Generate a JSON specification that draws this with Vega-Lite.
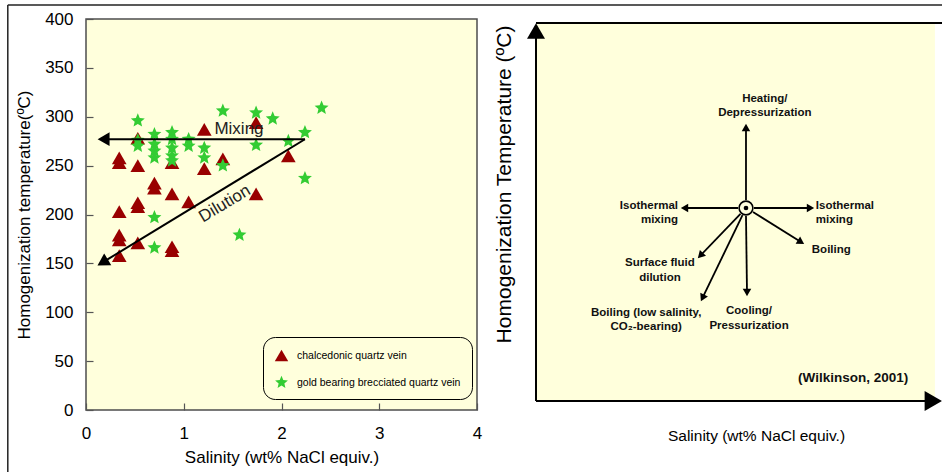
{
  "$schema": "https://vega.github.io/schema/vega-lite/v6.json",
  "background": "white",
  "padding": {"left": 6, "top": 3, "right": 0, "bottom": 0},
  "bounds": "flush",
  "spacing": 59,
  "config": {
    "font": "Liberation Sans",
    "axis": {"labelColor": "#000", "titleColor": "#000", "titleFontWeight": "normal", "grid": false, "domain": false, "tickColor": "#555", "tickWidth": 1.2, "labelFlush": false}
  },
  "hconcat": [
    {
      "width": 391,
      "height": 391,
      "view": {"fill": "#FFFFDC", "stroke": "#4d4d4d", "strokeWidth": 1.5},
      "layer": [
        {
          "data": {"values": [{"edge": "frame"}]},
          "mark": {"type": "rule", "color": "#222", "strokeWidth": 1.5},
          "encoding": {
            "x": {"datum": -0.8, "type": "quantitative", "scale": {"domain": [0, 4], "nice": false}, "axis": {"values": [0, 1, 2, 3, 4], "title": "Salinity (wt% NaCl equiv.)", "labelFontSize": 17, "titleFontSize": 17, "tickSize": -7, "labelPadding": 22, "titlePadding": 8}},
            "y": {"datum": 414.3, "type": "quantitative", "scale": {"domain": [0, 400], "nice": false}, "axis": {"values": [0, 50, 100, 150, 200, 250, 300, 350, 400], "title": "Homogenization temperature(ºC)", "labelFontSize": 17, "titleFontSize": 17, "tickSize": -7, "labelPadding": 20, "titlePadding": 11}},
            "y2": {"datum": -90}
          }
        },
        {
          "data": {"values": [{"edge": "frame"}]},
          "mark": {"type": "rule", "color": "#222", "strokeWidth": 1.5},
          "encoding": {
            "x": {"datum": -0.8, "type": "quantitative", "scale": {"domain": [0, 4], "nice": false}, "axis": {"values": [0, 1, 2, 3, 4], "title": "Salinity (wt% NaCl equiv.)", "labelFontSize": 17, "titleFontSize": 17, "tickSize": -7, "labelPadding": 22, "titlePadding": 8}},
            "x2": {"datum": 9},
            "y": {"datum": 414.3, "type": "quantitative", "scale": {"domain": [0, 400], "nice": false}, "axis": {"values": [0, 50, 100, 150, 200, 250, 300, 350, 400], "title": "Homogenization temperature(ºC)", "labelFontSize": 17, "titleFontSize": 17, "tickSize": -7, "labelPadding": 20, "titlePadding": 11}}
          }
        },
        {
          "data": {
            "values": [
              {"salinity": 0.34, "temp": 258, "vein": "chalcedonic quartz vein"},
              {"salinity": 0.34, "temp": 253, "vein": "chalcedonic quartz vein"},
              {"salinity": 0.53, "temp": 250, "vein": "chalcedonic quartz vein"},
              {"salinity": 0.53, "temp": 278, "vein": "chalcedonic quartz vein"},
              {"salinity": 1.21, "temp": 287, "vein": "chalcedonic quartz vein"},
              {"salinity": 1.40, "temp": 257, "vein": "chalcedonic quartz vein"},
              {"salinity": 1.21, "temp": 247, "vein": "chalcedonic quartz vein"},
              {"salinity": 0.88, "temp": 253, "vein": "chalcedonic quartz vein"},
              {"salinity": 0.70, "temp": 232, "vein": "chalcedonic quartz vein"},
              {"salinity": 0.70, "temp": 227, "vein": "chalcedonic quartz vein"},
              {"salinity": 0.88, "temp": 221, "vein": "chalcedonic quartz vein"},
              {"salinity": 1.05, "temp": 213, "vein": "chalcedonic quartz vein"},
              {"salinity": 0.53, "temp": 212, "vein": "chalcedonic quartz vein"},
              {"salinity": 0.53, "temp": 208, "vein": "chalcedonic quartz vein"},
              {"salinity": 0.34, "temp": 203, "vein": "chalcedonic quartz vein"},
              {"salinity": 0.34, "temp": 179, "vein": "chalcedonic quartz vein"},
              {"salinity": 0.34, "temp": 174, "vein": "chalcedonic quartz vein"},
              {"salinity": 0.53, "temp": 171, "vein": "chalcedonic quartz vein"},
              {"salinity": 0.88, "temp": 167, "vein": "chalcedonic quartz vein"},
              {"salinity": 0.88, "temp": 163, "vein": "chalcedonic quartz vein"},
              {"salinity": 0.34, "temp": 158, "vein": "chalcedonic quartz vein"},
              {"salinity": 1.74, "temp": 294, "vein": "chalcedonic quartz vein"},
              {"salinity": 2.07, "temp": 260, "vein": "chalcedonic quartz vein"},
              {"salinity": 1.74, "temp": 221, "vein": "chalcedonic quartz vein"},
              {"salinity": 0.53, "temp": 296, "vein": "gold bearing brecciated quartz vein"},
              {"salinity": 0.53, "temp": 276, "vein": "gold bearing brecciated quartz vein"},
              {"salinity": 0.53, "temp": 270, "vein": "gold bearing brecciated quartz vein"},
              {"salinity": 0.70, "temp": 282, "vein": "gold bearing brecciated quartz vein"},
              {"salinity": 0.70, "temp": 272, "vein": "gold bearing brecciated quartz vein"},
              {"salinity": 0.70, "temp": 265, "vein": "gold bearing brecciated quartz vein"},
              {"salinity": 0.70, "temp": 258, "vein": "gold bearing brecciated quartz vein"},
              {"salinity": 0.88, "temp": 284, "vein": "gold bearing brecciated quartz vein"},
              {"salinity": 0.88, "temp": 277, "vein": "gold bearing brecciated quartz vein"},
              {"salinity": 0.88, "temp": 268, "vein": "gold bearing brecciated quartz vein"},
              {"salinity": 0.88, "temp": 260, "vein": "gold bearing brecciated quartz vein"},
              {"salinity": 0.88, "temp": 255, "vein": "gold bearing brecciated quartz vein"},
              {"salinity": 1.05, "temp": 277, "vein": "gold bearing brecciated quartz vein"},
              {"salinity": 1.05, "temp": 270, "vein": "gold bearing brecciated quartz vein"},
              {"salinity": 1.21, "temp": 268, "vein": "gold bearing brecciated quartz vein"},
              {"salinity": 1.21, "temp": 258, "vein": "gold bearing brecciated quartz vein"},
              {"salinity": 1.40, "temp": 306, "vein": "gold bearing brecciated quartz vein"},
              {"salinity": 1.40, "temp": 250, "vein": "gold bearing brecciated quartz vein"},
              {"salinity": 0.70, "temp": 197, "vein": "gold bearing brecciated quartz vein"},
              {"salinity": 0.70, "temp": 166, "vein": "gold bearing brecciated quartz vein"},
              {"salinity": 1.57, "temp": 179, "vein": "gold bearing brecciated quartz vein"},
              {"salinity": 1.74, "temp": 304, "vein": "gold bearing brecciated quartz vein"},
              {"salinity": 1.91, "temp": 298, "vein": "gold bearing brecciated quartz vein"},
              {"salinity": 2.41, "temp": 309, "vein": "gold bearing brecciated quartz vein"},
              {"salinity": 2.24, "temp": 284, "vein": "gold bearing brecciated quartz vein"},
              {"salinity": 2.07, "temp": 275, "vein": "gold bearing brecciated quartz vein"},
              {"salinity": 1.74, "temp": 271, "vein": "gold bearing brecciated quartz vein"},
              {"salinity": 2.24, "temp": 237, "vein": "gold bearing brecciated quartz vein"}
            ]
          },
          "mark": {"type": "point", "filled": true, "opacity": 1, "size": 215},
          "encoding": {
            "x": {"field": "salinity", "type": "quantitative", "scale": {"domain": [0, 4], "nice": false}, "axis": {"values": [0, 1, 2, 3, 4], "title": "Salinity (wt% NaCl equiv.)", "labelFontSize": 17, "titleFontSize": 17, "tickSize": -7, "labelPadding": 22, "titlePadding": 8}},
            "y": {"field": "temp", "type": "quantitative", "scale": {"domain": [0, 400], "nice": false}, "axis": {"values": [0, 50, 100, 150, 200, 250, 300, 350, 400], "title": "Homogenization temperature(ºC)", "labelFontSize": 17, "titleFontSize": 17, "tickSize": -7, "labelPadding": 20, "titlePadding": 11}},
            "color": {
              "field": "vein", "type": "nominal",
              "scale": {"domain": ["chalcedonic quartz vein", "gold bearing brecciated quartz vein"], "range": ["#990000", "#33CC33"]},
              "legend": {
                "title": null, "orient": "none", "legendX": 177, "legendY": 318,
                "fillColor": "#FFFFDC", "strokeColor": "#000", "cornerRadius": 12,
                "padding": 11, "rowPadding": 13, "symbolSize": 180, "labelOffset": 8,
                "labelFont": "Liberation Sans", "labelFontSize": 10.5, "labelLimit": 300
              }
            },
            "shape": {
              "field": "vein", "type": "nominal",
              "scale": {"domain": ["chalcedonic quartz vein", "gold bearing brecciated quartz vein"], "range": ["triangle-up", "M0,-1L0.265,-0.364L0.951,-0.309L0.428,0.139L0.588,0.809L0,0.45L-0.588,0.809L-0.428,0.139L-0.951,-0.309L-0.265,-0.364Z"]},
              "legend": {
                "title": null, "orient": "none", "legendX": 177, "legendY": 318,
                "fillColor": "#FFFFDC", "strokeColor": "#000", "cornerRadius": 12,
                "padding": 11, "rowPadding": 13, "symbolSize": 180, "labelOffset": 8,
                "labelFont": "Liberation Sans", "labelFontSize": 10.5, "labelLimit": 300
              }
            }
          }
        },
        {
          "data": {
            "values": [
              {"trend": "Mixing", "x": 2.24, "y": 277, "hx": 0.18, "hy": 277, "angle": 270},
              {"trend": "Dilution", "x": 2.24, "y": 277, "hx": 0.17, "hy": 151, "angle": 239}
            ]
          },
          "layer": [
            {
              "mark": {"type": "rule", "color": "#000", "strokeWidth": 2},
              "encoding": {
                "x": {"field": "x", "type": "quantitative", "scale": {"domain": [0, 4], "nice": false}, "axis": {"values": [0, 1, 2, 3, 4], "title": "Salinity (wt% NaCl equiv.)", "labelFontSize": 17, "titleFontSize": 17, "tickSize": -7, "labelPadding": 22, "titlePadding": 8}},
                "y": {"field": "y", "type": "quantitative", "scale": {"domain": [0, 400], "nice": false}, "axis": {"values": [0, 50, 100, 150, 200, 250, 300, 350, 400], "title": "Homogenization temperature(ºC)", "labelFontSize": 17, "titleFontSize": 17, "tickSize": -7, "labelPadding": 20, "titlePadding": 11}},
                "x2": {"field": "hx"},
                "y2": {"field": "hy"}
              }
            },
            {
              "mark": {"type": "point", "shape": "triangle-up", "filled": true, "color": "#000", "opacity": 1, "size": 190},
              "encoding": {
                "x": {"field": "hx", "type": "quantitative", "scale": {"domain": [0, 4], "nice": false}, "axis": {"values": [0, 1, 2, 3, 4], "title": "Salinity (wt% NaCl equiv.)", "labelFontSize": 17, "titleFontSize": 17, "tickSize": -7, "labelPadding": 22, "titlePadding": 8}},
                "y": {"field": "hy", "type": "quantitative", "scale": {"domain": [0, 400], "nice": false}, "axis": {"values": [0, 50, 100, 150, 200, 250, 300, 350, 400], "title": "Homogenization temperature(ºC)", "labelFontSize": 17, "titleFontSize": 17, "tickSize": -7, "labelPadding": 20, "titlePadding": 11}},
                "angle": {"field": "angle", "type": "quantitative", "scale": null}
              }
            }
          ]
        },
        {
          "data": {
            "values": [
              {"label": "Mixing", "x": 1.565, "y": 287, "angle": 0},
              {"label": "Dilution", "x": 1.42, "y": 211, "angle": -31}
            ]
          },
          "mark": {"type": "text", "fontSize": 17, "color": "#222", "baseline": "middle", "align": "center"},
          "encoding": {
            "x": {"field": "x", "type": "quantitative", "scale": {"domain": [0, 4], "nice": false}, "axis": {"values": [0, 1, 2, 3, 4], "title": "Salinity (wt% NaCl equiv.)", "labelFontSize": 17, "titleFontSize": 17, "tickSize": -7, "labelPadding": 22, "titlePadding": 8}},
            "y": {"field": "y", "type": "quantitative", "scale": {"domain": [0, 400], "nice": false}, "axis": {"values": [0, 50, 100, 150, 200, 250, 300, 350, 400], "title": "Homogenization temperature(ºC)", "labelFontSize": 17, "titleFontSize": 17, "tickSize": -7, "labelPadding": 20, "titlePadding": 11}},
            "text": {"field": "label"},
            "angle": {"field": "angle", "type": "quantitative", "scale": null}
          }
        }
      ]
    },
    {
      "width": 405,
      "height": 382,
      "view": {"stroke": null},
      "layer": [
        {
          "data": {"values": [{"part": "plot area"}]},
          "mark": {"type": "rect", "color": "#FFFFDC"},
          "encoding": {
            "x": {"datum": 0, "type": "quantitative", "scale": {"domain": [0, 100], "nice": false}, "axis": {"title": "Salinity (wt% NaCl equiv.)", "labels": false, "ticks": false, "titleFontSize": 15.5, "titlePadding": 27, "titleX": 220}},
            "x2": {"datum": 98.5},
            "y": {"datum": 0, "type": "quantitative", "scale": {"domain": [0, 101.06], "nice": false}, "axis": {"title": "Homogenization Temperature (ºC)", "labels": false, "ticks": false, "titleFontSize": 21, "titlePadding": 22, "titleY": 165}},
            "y2": {"datum": 100}
          }
        },
        {
          "data": {"values": [{"part": "top edge"}]},
          "mark": {"type": "rule", "color": "#000", "strokeWidth": 2},
          "encoding": {
            "x": {"datum": 0, "type": "quantitative", "scale": {"domain": [0, 100], "nice": false}, "axis": {"title": "Salinity (wt% NaCl equiv.)", "labels": false, "ticks": false, "titleFontSize": 15.5, "titlePadding": 27, "titleX": 220}},
            "x2": {"datum": 101.7},
            "y": {"datum": 100, "type": "quantitative", "scale": {"domain": [0, 101.06], "nice": false}, "axis": {"title": "Homogenization Temperature (ºC)", "labels": false, "ticks": false, "titleFontSize": 21, "titlePadding": 22, "titleY": 165}}
          }
        },
        {
          "data": {"values": [{"part": "temperature axis"}]},
          "mark": {"type": "rule", "color": "#000", "strokeWidth": 2},
          "encoding": {
            "x": {"datum": 0, "type": "quantitative", "scale": {"domain": [0, 100], "nice": false}, "axis": {"title": "Salinity (wt% NaCl equiv.)", "labels": false, "ticks": false, "titleFontSize": 15.5, "titlePadding": 27, "titleX": 220}},
            "y": {"datum": 0, "type": "quantitative", "scale": {"domain": [0, 101.06], "nice": false}, "axis": {"title": "Homogenization Temperature (ºC)", "labels": false, "ticks": false, "titleFontSize": 21, "titlePadding": 22, "titleY": 165}},
            "y2": {"datum": 98}
          }
        },
        {
          "data": {"values": [{"part": "salinity axis"}]},
          "mark": {"type": "rule", "color": "#000", "strokeWidth": 2},
          "encoding": {
            "x": {"datum": 0, "type": "quantitative", "scale": {"domain": [0, 100], "nice": false}, "axis": {"title": "Salinity (wt% NaCl equiv.)", "labels": false, "ticks": false, "titleFontSize": 15.5, "titlePadding": 27, "titleX": 220}},
            "x2": {"datum": 98.5},
            "y": {"datum": 0, "type": "quantitative", "scale": {"domain": [0, 101.06], "nice": false}, "axis": {"title": "Homogenization Temperature (ºC)", "labels": false, "ticks": false, "titleFontSize": 21, "titlePadding": 22, "titleY": 165}}
          }
        },
        {
          "data": {"values": [{"part": "temperature arrowhead"}]},
          "mark": {"type": "point", "shape": "triangle-up", "filled": true, "color": "#000", "opacity": 1, "size": 324},
          "encoding": {
            "x": {"datum": 0, "type": "quantitative", "scale": {"domain": [0, 100], "nice": false}, "axis": {"title": "Salinity (wt% NaCl equiv.)", "labels": false, "ticks": false, "titleFontSize": 15.5, "titlePadding": 27, "titleX": 220}},
            "y": {"datum": 97.9, "type": "quantitative", "scale": {"domain": [0, 101.06], "nice": false}, "axis": {"title": "Homogenization Temperature (ºC)", "labels": false, "ticks": false, "titleFontSize": 21, "titlePadding": 22, "titleY": 165}}
          }
        },
        {
          "data": {"values": [{"part": "salinity arrowhead"}]},
          "mark": {"type": "point", "shape": "triangle-up", "filled": true, "color": "#000", "opacity": 1, "size": 400, "angle": 90},
          "encoding": {
            "x": {"datum": 98.1, "type": "quantitative", "scale": {"domain": [0, 100], "nice": false}, "axis": {"title": "Salinity (wt% NaCl equiv.)", "labels": false, "ticks": false, "titleFontSize": 15.5, "titlePadding": 27, "titleX": 220}},
            "y": {"datum": 0, "type": "quantitative", "scale": {"domain": [0, 101.06], "nice": false}, "axis": {"title": "Homogenization Temperature (ºC)", "labels": false, "ticks": false, "titleFontSize": 21, "titlePadding": 22, "titleY": 165}}
          }
        },
        {
          "data": {
            "values": [
              {"process": "Heating/Depressurization", "x": 51.85, "y": 53.17, "hx": 51.85, "hy": 72.35, "angle": 0},
              {"process": "Cooling/Pressurization", "x": 51.85, "y": 48.94, "hx": 52.1, "hy": 28.7, "angle": 180},
              {"process": "Isothermal mixing (fresher)", "x": 49.88, "y": 51.06, "hx": 36.67, "hy": 51.06, "angle": 270},
              {"process": "Isothermal mixing (saltier)", "x": 53.83, "y": 51.06, "hx": 67.78, "hy": 51.06, "angle": 90},
              {"process": "Boiling", "x": 53.58, "y": 50.0, "hx": 65.43, "hy": 42.04, "angle": 122},
              {"process": "Surface fluid dilution", "x": 50.49, "y": 49.52, "hx": 40.59, "hy": 38.49, "angle": 224},
              {"process": "Boiling (low salinity, CO2-bearing)", "x": 50.99, "y": 49.15, "hx": 41.11, "hy": 27.29, "angle": 206}
            ]
          },
          "layer": [
            {
              "mark": {"type": "rule", "color": "#000", "strokeWidth": 1.8},
              "encoding": {
                "x": {"field": "x", "type": "quantitative", "scale": {"domain": [0, 100], "nice": false}, "axis": {"title": "Salinity (wt% NaCl equiv.)", "labels": false, "ticks": false, "titleFontSize": 15.5, "titlePadding": 27, "titleX": 220}},
                "y": {"field": "y", "type": "quantitative", "scale": {"domain": [0, 101.06], "nice": false}, "axis": {"title": "Homogenization Temperature (ºC)", "labels": false, "ticks": false, "titleFontSize": 21, "titlePadding": 22, "titleY": 165}},
                "x2": {"field": "hx"},
                "y2": {"field": "hy"}
              }
            },
            {
              "mark": {"type": "point", "shape": "triangle-up", "filled": true, "color": "#000", "opacity": 1, "size": 72},
              "encoding": {
                "x": {"field": "hx", "type": "quantitative", "scale": {"domain": [0, 100], "nice": false}, "axis": {"title": "Salinity (wt% NaCl equiv.)", "labels": false, "ticks": false, "titleFontSize": 15.5, "titlePadding": 27, "titleX": 220}},
                "y": {"field": "hy", "type": "quantitative", "scale": {"domain": [0, 101.06], "nice": false}, "axis": {"title": "Homogenization Temperature (ºC)", "labels": false, "ticks": false, "titleFontSize": 21, "titlePadding": 22, "titleY": 165}},
                "angle": {"field": "angle", "type": "quantitative", "scale": null}
              }
            }
          ]
        },
        {
          "data": {"values": [{"x": 51.85, "y": 51.06}]},
          "layer": [
            {
              "mark": {"type": "point", "shape": "circle", "filled": false, "fill": "#FFFFDC", "stroke": "#000", "strokeWidth": 1.6, "opacity": 1, "size": 190},
              "encoding": {
                "x": {"field": "x", "type": "quantitative", "scale": {"domain": [0, 100], "nice": false}, "axis": {"title": "Salinity (wt% NaCl equiv.)", "labels": false, "ticks": false, "titleFontSize": 15.5, "titlePadding": 27, "titleX": 220}},
                "y": {"field": "y", "type": "quantitative", "scale": {"domain": [0, 101.06], "nice": false}, "axis": {"title": "Homogenization Temperature (ºC)", "labels": false, "ticks": false, "titleFontSize": 21, "titlePadding": 22, "titleY": 165}}
              }
            },
            {
              "mark": {"type": "point", "shape": "circle", "filled": true, "color": "#000", "opacity": 1, "size": 22},
              "encoding": {
                "x": {"field": "x", "type": "quantitative", "scale": {"domain": [0, 100], "nice": false}, "axis": {"title": "Salinity (wt% NaCl equiv.)", "labels": false, "ticks": false, "titleFontSize": 15.5, "titlePadding": 27, "titleX": 220}},
                "y": {"field": "y", "type": "quantitative", "scale": {"domain": [0, 101.06], "nice": false}, "axis": {"title": "Homogenization Temperature (ºC)", "labels": false, "ticks": false, "titleFontSize": 21, "titlePadding": 22, "titleY": 165}}
              }
            }
          ]
        },
        {
          "data": {
            "values": [
              {"label": "Heating/\nDepressurization", "x": 56.5, "y": 79.9},
              {"label": "Surface fluid\ndilution", "x": 30.6, "y": 36.5},
              {"label": "Boiling (low salinity,\nCO₂-bearing)", "x": 27.2, "y": 23.3},
              {"label": "Cooling/\nPressurization", "x": 52.6, "y": 23.8}
            ]
          },
          "mark": {"type": "text", "fontSize": 11.5, "fontWeight": "bold", "color": "#111", "align": "center", "baseline": "middle", "lineBreak": "\n", "lineHeight": 14.5},
          "encoding": {
            "x": {"field": "x", "type": "quantitative", "scale": {"domain": [0, 100], "nice": false}, "axis": {"title": "Salinity (wt% NaCl equiv.)", "labels": false, "ticks": false, "titleFontSize": 15.5, "titlePadding": 27, "titleX": 220}},
            "y": {"field": "y", "type": "quantitative", "scale": {"domain": [0, 101.06], "nice": false}, "axis": {"title": "Homogenization Temperature (ºC)", "labels": false, "ticks": false, "titleFontSize": 21, "titlePadding": 22, "titleY": 165}},
            "text": {"field": "label"}
          }
        },
        {
          "data": {"values": [{"label": "Isothermal\nmixing", "x": 35.06, "y": 51.6}]},
          "mark": {"type": "text", "fontSize": 11.5, "fontWeight": "bold", "color": "#111", "align": "right", "baseline": "middle", "lineBreak": "\n", "lineHeight": 14.5},
          "encoding": {
            "x": {"field": "x", "type": "quantitative", "scale": {"domain": [0, 100], "nice": false}, "axis": {"title": "Salinity (wt% NaCl equiv.)", "labels": false, "ticks": false, "titleFontSize": 15.5, "titlePadding": 27, "titleX": 220}},
            "y": {"field": "y", "type": "quantitative", "scale": {"domain": [0, 101.06], "nice": false}, "axis": {"title": "Homogenization Temperature (ºC)", "labels": false, "ticks": false, "titleFontSize": 21, "titlePadding": 22, "titleY": 165}},
            "text": {"field": "label"}
          }
        },
        {
          "data": {
            "values": [
              {"label": "Isothermal\nmixing", "x": 69.1, "y": 51.6},
              {"label": "Boiling", "x": 68.1, "y": 39.9}
            ]
          },
          "mark": {"type": "text", "fontSize": 11.5, "fontWeight": "bold", "color": "#111", "align": "left", "baseline": "middle", "lineBreak": "\n", "lineHeight": 14.5},
          "encoding": {
            "x": {"field": "x", "type": "quantitative", "scale": {"domain": [0, 100], "nice": false}, "axis": {"title": "Salinity (wt% NaCl equiv.)", "labels": false, "ticks": false, "titleFontSize": 15.5, "titlePadding": 27, "titleX": 220}},
            "y": {"field": "y", "type": "quantitative", "scale": {"domain": [0, 101.06], "nice": false}, "axis": {"title": "Homogenization Temperature (ºC)", "labels": false, "ticks": false, "titleFontSize": 21, "titlePadding": 22, "titleY": 165}},
            "text": {"field": "label"}
          }
        },
        {
          "data": {"values": [{"label": "(Wilkinson, 2001)", "x": 78.3, "y": 6.1}]},
          "mark": {"type": "text", "fontSize": 13.5, "fontWeight": "bold", "color": "#111", "align": "center", "baseline": "middle"},
          "encoding": {
            "x": {"field": "x", "type": "quantitative", "scale": {"domain": [0, 100], "nice": false}, "axis": {"title": "Salinity (wt% NaCl equiv.)", "labels": false, "ticks": false, "titleFontSize": 15.5, "titlePadding": 27, "titleX": 220}},
            "y": {"field": "y", "type": "quantitative", "scale": {"domain": [0, 101.06], "nice": false}, "axis": {"title": "Homogenization Temperature (ºC)", "labels": false, "ticks": false, "titleFontSize": 21, "titlePadding": 22, "titleY": 165}},
            "text": {"field": "label"}
          }
        }
      ]
    }
  ]
}
